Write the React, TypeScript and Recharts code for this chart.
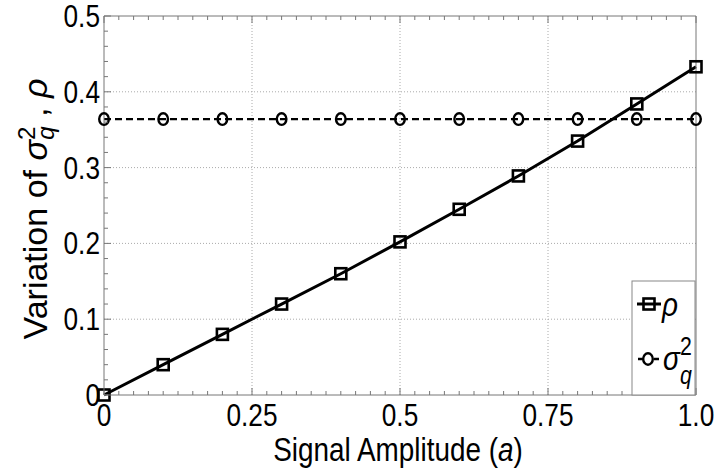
import { Line, LineChart, ReferenceLine, XAxis, YAxis } from 'recharts';

const amplitude = [0, 0.1, 0.2, 0.3, 0.4, 0.5, 0.6, 0.7, 0.8, 0.9, 1.0];
const rho = [0, 0.04, 0.08, 0.12, 0.16, 0.202, 0.245, 0.289, 0.335, 0.384, 0.433];
const sigmaQ2 = [0.364, 0.364, 0.364, 0.364, 0.364, 0.364, 0.364, 0.364, 0.364, 0.364, 0.364];

const xMajorTicks = [0, 0.25, 0.5, 0.75, 1];
const xTickLabels = ['0', '0.25', '0.5', '0.75', '1.0'];
const yMajorTicks = [0, 0.1, 0.2, 0.3, 0.4, 0.5];
const yTickLabels = ['0', '0.1', '0.2', '0.3', '0.4', '0.5'];
const xGrid = [0.25, 0.5, 0.75];
const yGrid = [0.1, 0.2, 0.3, 0.4];

// minor tick marks: every 0.025 on x, every 0.02 on y
const xMinorTicks = Array.from({ length: 41 }, (_, i) => Math.round(i * 25) / 1000);
const yMinorTicks = Array.from({ length: 26 }, (_, i) => Math.round(i * 20) / 1000);

const data = amplitude.map((a, i) => ({ a, rho: rho[i], sigma: sigmaQ2[i] }));

const FONT = "'Liberation Sans', Arial, sans-serif";
const AXIS = '#777';
const TICK_FONT = 32;
const SQUEEZE = 0.82; // the figure's text is horizontally condensed

function NText({ x, y, anchor = 'start', size, italic, children }: any) {
  return (
    <text
      transform={`translate(${x} ${y}) scale(${SQUEEZE} 1)`}
      textAnchor={anchor}
      fontFamily={FONT}
      fontSize={size}
      fontStyle={italic ? 'italic' : 'normal'}
      fill="#000"
    >
      {children}
    </text>
  );
}

function majorIndex(list: number[], v: number) {
  return list.findIndex(t => Math.abs(t - v) < 1e-6);
}

function XTick({ x, y, payload, side }: any) {
  const idx = majorIndex(xMajorTicks, payload.value);
  const len = idx >= 0 ? 7 : 4;
  const dir = side === 'top' ? 1 : -1;
  return (
    <g>
      <line x1={x} x2={x} y1={y} y2={y + dir * len} stroke={AXIS} strokeWidth={1} />
      {idx >= 0 && side !== 'top' && (
        <NText x={x} y={y + 31} anchor="middle" size={TICK_FONT}>
          {xTickLabels[idx]}
        </NText>
      )}
    </g>
  );
}

function YTick({ x, y, payload, side }: any) {
  const idx = majorIndex(yMajorTicks, payload.value);
  const len = idx >= 0 ? 7 : 4;
  const dir = side === 'right' ? -1 : 1;
  return (
    <g>
      <line x1={x} x2={x + dir * len} y1={y} y2={y} stroke={AXIS} strokeWidth={1} />
      {idx >= 0 && side !== 'right' && (
        <NText x={x - 4} y={y + 11} anchor="end" size={TICK_FONT}>
          {yTickLabels[idx]}
        </NText>
      )}
    </g>
  );
}

function SquareDot({ cx, cy, index }: any) {
  return (
    <rect key={`sq-${index}`} x={cx - 5.5} y={cy - 5.5} width={11} height={11} fill="none" stroke="#000" strokeWidth={2.6} />
  );
}

function CircleDot({ cx, cy, index }: any) {
  return <ellipse key={`ci-${index}`} cx={cx} cy={cy} rx={4.8} ry={5.8} fill="none" stroke="#000" strokeWidth={2.4} />;
}

export default function App() {
  return (
    <div style={{ position: 'absolute', left: 0, top: 0, width: 717, height: 474, background: '#fff' }}>
      <LineChart width={717} height={474} data={data} margin={{ top: 15, right: 20, bottom: 78, left: 103 }}>
        {xGrid.map(v => (
          <ReferenceLine key={`xg-${v}`} x={v} stroke="#aaa" strokeDasharray="1 2" />
        ))}
        {yGrid.map(v => (
          <ReferenceLine key={`yg-${v}`} y={v} stroke="#aaa" strokeDasharray="1 2" />
        ))}
        <XAxis
          dataKey="a"
          type="number"
          domain={[0, 1]}
          ticks={xMinorTicks}
          interval={0}
          height={1}
          tickSize={0}
          tickMargin={0}
          stroke={AXIS}
          tick={(p: any) => <XTick {...p} side="bottom" />}
        />
        <XAxis
          xAxisId="top"
          orientation="top"
          dataKey="a"
          type="number"
          domain={[0, 1]}
          ticks={xMinorTicks}
          interval={0}
          height={1}
          tickSize={0}
          tickMargin={0}
          stroke={AXIS}
          tick={(p: any) => <XTick {...p} side="top" />}
        />
        <YAxis
          type="number"
          domain={[0, 0.5]}
          ticks={yMinorTicks}
          interval={0}
          width={1}
          tickSize={0}
          tickMargin={0}
          stroke={AXIS}
          tick={(p: any) => <YTick {...p} side="left" />}
        />
        <YAxis
          yAxisId="right"
          orientation="right"
          type="number"
          domain={[0, 0.5]}
          ticks={yMinorTicks}
          interval={0}
          width={1}
          tickSize={0}
          tickMargin={0}
          stroke={AXIS}
          tick={(p: any) => <YTick {...p} side="right" />}
        />
        <Line
          dataKey="sigma"
          stroke="#000"
          strokeWidth={2.4}
          strokeDasharray="7 4"
          dot={CircleDot}
          isAnimationActive={false}
        />
        <Line dataKey="rho" stroke="#000" strokeWidth={3} dot={SquareDot} isAnimationActive={false} />
      </LineChart>
      <svg
        width={717}
        height={474}
        style={{ position: 'absolute', left: 0, top: 0, pointerEvents: 'none' }}
        fontFamily={FONT}
      >
        <NText x={398} y={461} anchor="middle" size={34}>
          Signal Amplitude (<tspan fontStyle="italic">a</tspan>)
        </NText>
        <text x={47} y={209} textAnchor="middle" fontSize={34} fill="#000" transform="rotate(-90 47 209)">
          Variation of <tspan fontStyle="italic">σ</tspan>
          <tspan fontSize={24} dy={-12}>2</tspan>
          <tspan fontSize={24} fontStyle="italic" dx={-13} dy={19}>q</tspan>
          <tspan dy={-7}> , </tspan>
          <tspan fontStyle="italic">ρ</tspan>
        </text>
        {/* legend */}
        <rect x={632} y={281} width={63} height={114} fill="#fff" stroke="#888" strokeWidth={1} />
        <line x1={637} x2={661} y1={304} y2={304} stroke="#000" strokeWidth={3} />
        <rect x={643.5} y={298.5} width={11} height={11} fill="none" stroke="#000" strokeWidth={2.6} />
        <NText x={662} y={316} size={34} italic>ρ</NText>
        <line x1={638} x2={661} y1={359} y2={359} stroke="#000" strokeWidth={2.4} strokeDasharray="5 3" />
        <ellipse cx={648} cy={359} rx={4.8} ry={5.8} fill="#fff" stroke="#000" strokeWidth={2.4} />
        <NText x={663} y={370} size={34} italic>σ</NText>
        <NText x={680} y={355} size={26}>2</NText>
        <NText x={680} y={384} size={26} italic>q</NText>
      </svg>
    </div>
  );
}
